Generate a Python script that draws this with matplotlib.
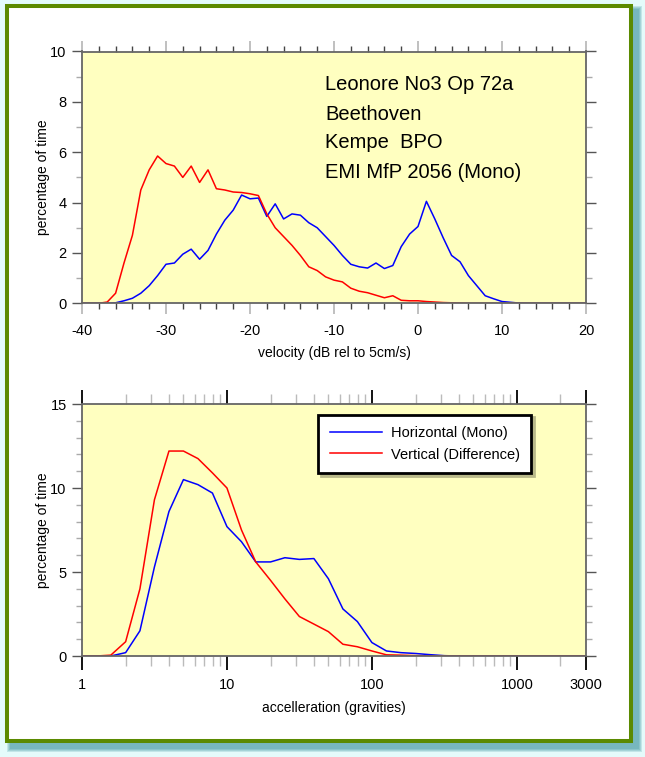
import matplotlib
matplotlib.use('Agg')
import matplotlib.pyplot as plt
from matplotlib.patches import Rectangle
from matplotlib.ticker import MultipleLocator, FixedLocator, NullFormatter

plt.rcParams['font.family'] = ['Liberation Sans', 'DejaVu Sans']
plt.rcParams['axes.unicode_minus'] = False

# velocity histogram (dB rel to 5cm/s)
velocity = list(range(-40, 21))
vel_horizontal = [0, 0, 0, 0, 0.02, 0.1, 0.2, 0.4, 0.7, 1.1,
                  1.55, 1.6, 1.95, 2.15, 1.75, 2.1, 2.75, 3.3, 3.7, 4.3,
                  4.15, 4.18, 3.45, 3.95, 3.35, 3.55, 3.5, 3.2, 3.0, 2.65,
                  2.3, 1.9, 1.55, 1.45, 1.4, 1.6, 1.38, 1.5, 2.25, 2.75,
                  3.05, 4.05, 3.35, 2.6, 1.9, 1.65, 1.1, 0.7, 0.3, 0.18,
                  0.07, 0.04, 0.01, 0, 0, 0, 0, 0, 0, 0, 0]
vel_vertical = [0, 0, 0, 0.05, 0.4, 1.6, 2.7, 4.5, 5.3, 5.85,
                5.55, 5.45, 5.0, 5.45, 4.8, 5.3, 4.55, 4.5, 4.42, 4.4,
                4.35, 4.28, 3.55, 3.0, 2.65, 2.3, 1.9, 1.45, 1.3, 1.05,
                0.92, 0.85, 0.6, 0.48, 0.42, 0.32, 0.22, 0.3, 0.12, 0.1,
                0.1, 0.07, 0.05, 0.03, 0.02, 0.01, 0, 0, 0, 0,
                0, 0, 0, 0, 0, 0, 0, 0, 0, 0, 0]

# acceleration histogram (gravities)
accel = [1, 1.26, 1.58, 2, 2.51, 3.16, 3.98, 5.01, 6.31, 7.94,
         10, 12.6, 15.8, 20, 25.1, 31.6, 39.8, 50.1, 63.1, 79.4,
         100, 126, 158, 200, 251, 316, 398, 501, 631, 794,
         1000, 1259, 1585, 1995, 2512, 3162]
acc_horizontal = [0, 0, 0, 0.2, 1.5, 5.3, 8.6, 10.5, 10.2, 9.7,
                  7.7, 6.8, 5.6, 5.6, 5.85, 5.75, 5.8, 4.6, 2.8, 2.05,
                  0.8, 0.3, 0.2, 0.15, 0.08, 0.02, 0, 0, 0, 0,
                  0, 0, 0, 0, 0, 0]
acc_vertical = [0, 0, 0.05, 0.85, 4.0, 9.3, 12.2, 12.2, 11.75, 10.9,
                10.0, 7.5, 5.6, 4.5, 3.4, 2.35, 1.9, 1.45, 0.7, 0.55,
                0.3, 0.07, 0.05, 0.02, 0.01, 0, 0, 0, 0, 0,
                0, 0, 0, 0, 0, 0]

acc_ticks = [1, 10, 100, 1000, 3000]
acc_labels = ['1', '10', '100', '1000', '3000']

notes = ['Leonore No3 Op 72a', 'Beethoven', 'Kempe  BPO', 'EMI MfP 2056 (Mono)']
series_names = ['Horizontal (Mono)', 'Vertical (Difference)']

W, H = 645, 757
fig = plt.figure(figsize=(W / 100, H / 100), dpi=100)
fig.patch.set_facecolor('white')


def px(x, y):
    return x / W, 1 - y / H


def rect_px(x0, y0, x1, y1, **kw):
    fx0, fy1 = px(x0, y1)
    r = Rectangle((fx0, fy1), (x1 - x0) / W, (y1 - y0) / H,
                  transform=fig.transFigure, **kw)
    fig.patches.append(r)
    return r


# light glow and soft teal shadow behind the frame
rect_px(0, 0, 645, 757, facecolor='#e4fbfb', edgecolor='none', zorder=-10)
for i, a in enumerate([0.25, 0.3, 0.35, 0.45]):
    d = 4 - i
    rect_px(11 - d, 10 - d, 642 + d - 4, 752 + d - 4,
            facecolor='#5fa9b0', edgecolor='none', alpha=a, zorder=-9)
rect_px(7, 6, 631, 741, facecolor='white', edgecolor='#5b8a00',
        linewidth=2.9, zorder=-8)

bg = '#ffffc0'
spine_col = '#666666'

# ---- top: velocity ----
ax1 = fig.add_axes([82 / W, 1 - 303.3 / H, 504 / W, 251.8 / H])
ax1.set_facecolor(bg)
ax1.plot(velocity, vel_horizontal, color='#0000ff', lw=1.1)
ax1.plot(velocity, vel_vertical, color='#ff0000', lw=1.1)
ax1.set_xlim(-40, 20)
ax1.set_ylim(0, 10)
ax1.xaxis.set_major_locator(MultipleLocator(10))
ax1.xaxis.set_minor_locator(MultipleLocator(2))
ax1.yaxis.set_major_locator(MultipleLocator(2))
ax1.yaxis.set_minor_locator(MultipleLocator(1))
ax1.set_xlabel('velocity (dB rel to 5cm/s)', fontsize=10, labelpad=6)
ax1.set_ylabel('percentage of time', fontsize=10, labelpad=0)
for i, t in enumerate(notes):
    fx, fy = px(325, 85 + 29 * i)
    fig.text(fx, fy, t, fontsize=14.5, va='center', ha='left')

# ---- bottom: acceleration ----
ax2 = fig.add_axes([82 / W, 1 - 656 / H, 504 / W, 252 / H])
ax2.set_facecolor(bg)
ax2.set_xscale('log')
l1, = ax2.plot(accel, acc_horizontal, color='#0000ff', lw=1.1)
l2, = ax2.plot(accel, acc_vertical, color='#ff0000', lw=1.1)
ax2.set_xlim(1, 3000)
ax2.set_ylim(0, 15)
ax2.xaxis.set_major_locator(FixedLocator(acc_ticks))
ax2.set_xticklabels(acc_labels)
ax2.xaxis.set_minor_locator(FixedLocator(
    [m * d for d in (1, 10, 100, 1000) for m in range(2, 10) if m * d < 3000]))
ax2.xaxis.set_minor_formatter(NullFormatter())
ax2.yaxis.set_major_locator(MultipleLocator(5))
ax2.yaxis.set_minor_locator(MultipleLocator(1))
ax2.set_xlabel('accelleration (gravities)', fontsize=10, labelpad=6)
ax2.set_ylabel('percentage of time', fontsize=10, labelpad=0)

leg = ax2.legend([l1, l2], series_names, loc='upper left',
                 bbox_to_anchor=(0.468, 0.958), fontsize=10.5, frameon=True,
                 fancybox=False, shadow={'color': '#b9b98a', 'alpha': 1},
                 handlelength=3.6, handletextpad=0.6, borderpad=0.8,
                 labelspacing=0.5, borderaxespad=0)
leg.get_frame().set_edgecolor('black')
leg.get_frame().set_linewidth(2.0)

for ax in (ax1, ax2):
    for s in ax.spines.values():
        s.set_color(spine_col)
        s.set_linewidth(1.3)
    ax.tick_params(which='both', direction='out', top=True, right=True,
                   labelsize=10.5)
    ax.tick_params(axis='y', which='major', length=7, width=1.0,
                   color='#555555', pad=4)
    ax.tick_params(axis='y', which='minor', length=4, width=1.0,
                   color='#aaaaaa')

ax1.tick_params(axis='x', which='major', length=8, width=1.3,
                color='#bbbbbb', pad=7)
ax1.tick_params(axis='x', which='minor', length=4, width=1.0,
                color='#444444')
ax2.tick_params(axis='x', which='major', length=10, width=1.3,
                color='black', pad=6)
ax2.tick_params(axis='x', which='minor', length=7, width=1.0,
                color='#bbbbbb')

fig.savefig('out.png', dpi=100, facecolor=fig.get_facecolor())
